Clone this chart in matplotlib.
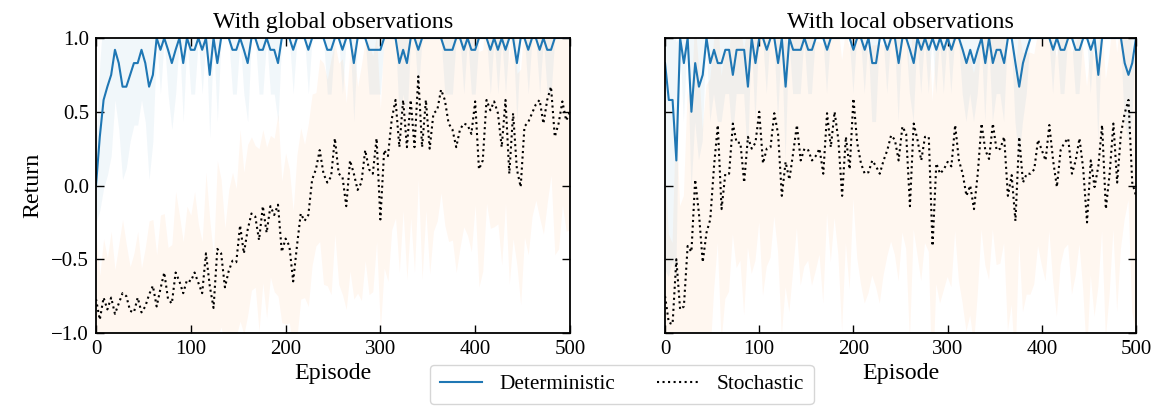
import numpy as np
import matplotlib
matplotlib.use("Agg")
import matplotlib.pyplot as plt

plt.rcParams['font.family'] = ['Liberation Serif', 'DejaVu Serif']
plt.rcParams['axes.unicode_minus'] = True

# ---------------- data (evaluated every 4 episodes) ----------------
step = 4

global_det = [
    0.00, 0.33, 0.58, 0.67, 0.75, 0.92, 0.83, 0.67, 0.67, 0.75,
    0.83, 0.83, 0.92, 0.83, 0.67, 0.75, 1.00, 0.92, 1.00, 0.92,
    0.83, 0.92, 1.00, 0.83, 1.00, 0.92, 0.92, 1.00, 0.92, 1.00,
    0.75, 1.00, 0.83, 1.00, 1.00, 1.00, 0.92, 0.92, 1.00, 0.92,
    0.83, 1.00, 1.00, 0.92, 0.92, 1.00, 0.92, 0.92, 0.83, 1.00,
    1.00, 1.00, 0.92, 1.00, 1.00, 1.00, 0.92, 1.00, 1.00, 1.00,
    1.00, 0.92, 0.92, 1.00, 1.00, 0.92, 1.00, 1.00, 0.83, 1.00,
    1.00, 1.00, 0.92, 0.92, 0.92, 0.92, 1.00, 1.00, 1.00, 1.00,
    0.83, 0.92, 0.83, 1.00, 1.00, 0.92, 1.00, 1.00, 1.00, 1.00,
    1.00, 1.00, 0.92, 0.92, 0.92, 1.00, 1.00, 0.92, 1.00, 0.92,
    0.92, 1.00, 1.00, 1.00, 0.92, 1.00, 0.92, 1.00, 0.92, 1.00,
    1.00, 0.83, 1.00, 1.00, 0.92, 1.00, 1.00, 0.92, 1.00, 0.92,
    0.92, 1.00, 1.00, 1.00, 1.00, 1.00]
global_det_std = [
    0.25, 0.50, 0.60, 0.60, 0.55, 0.34, 0.45, 0.63, 0.55, 0.45,
    0.42, 0.42, 0.34, 0.40, 0.63, 0.45, 0.00, 0.30, 0.00, 0.30,
    0.45, 0.30, 0.00, 0.40, 0.00, 0.30, 0.30, 0.00, 0.30, 0.00,
    0.43, 0.00, 0.40, 0.00, 0.00, 0.00, 0.30, 0.30, 0.00, 0.30,
    0.40, 0.00, 0.00, 0.30, 0.30, 0.00, 0.30, 0.30, 0.40, 0.00,
    0.00, 0.00, 0.30, 0.00, 0.00, 0.00, 0.30, 0.00, 0.00, 0.00,
    0.00, 0.30, 0.30, 0.00, 0.00, 0.30, 0.00, 0.00, 0.40, 0.00,
    0.00, 0.00, 0.30, 0.30, 0.30, 0.30, 0.00, 0.00, 0.00, 0.00,
    0.40, 0.30, 0.40, 0.00, 0.00, 0.30, 0.00, 0.00, 0.00, 0.00,
    0.00, 0.00, 0.30, 0.30, 0.30, 0.00, 0.00, 0.30, 0.00, 0.30,
    0.30, 0.00, 0.00, 0.00, 0.30, 0.00, 0.30, 0.00, 0.30, 0.00,
    0.00, 0.40, 0.00, 0.00, 0.30, 0.00, 0.00, 0.30, 0.00, 0.30,
    0.30, 0.00, 0.00, 0.00, 0.00, 0.00]
global_sto = [
    -0.77, -0.91, -0.76, -0.84, -0.76, -0.87, -0.80, -0.73, -0.75, -0.85,
    -0.86, -0.76, -0.86, -0.82, -0.74, -0.68, -0.82, -0.70, -0.59, -0.77,
    -0.80, -0.59, -0.65, -0.73, -0.64, -0.65, -0.59, -0.66, -0.73, -0.46,
    -0.68, -0.83, -0.43, -0.46, -0.69, -0.58, -0.51, -0.52, -0.27, -0.46,
    -0.30, -0.19, -0.21, -0.37, -0.14, -0.32, -0.14, -0.20, -0.13, -0.45,
    -0.36, -0.41, -0.65, -0.41, -0.19, -0.24, -0.20, 0.04, 0.11, 0.24,
    0.08, 0.02, 0.06, 0.32, 0.08, 0.06, -0.14, 0.17, 0.08, -0.03,
    0.02, 0.24, 0.11, 0.08, 0.32, -0.23, 0.24, 0.20, 0.45, 0.58,
    0.26, 0.58, 0.26, 0.58, 0.26, 0.74, 0.26, 0.58, 0.25, 0.49,
    0.51, 0.65, 0.58, 0.42, 0.38, 0.26, 0.38, 0.42, 0.41, 0.35,
    0.57, 0.11, 0.17, 0.58, 0.51, 0.57, 0.49, 0.26, 0.58, 0.08,
    0.49, 0.11, -0.01, 0.40, 0.43, 0.49, 0.55, 0.58, 0.42, 0.58,
    0.67, 0.33, 0.42, 0.57, 0.44, 0.50]
global_sto_std = [
    0.45, 0.30, 0.40, 0.35, 0.45, 0.30, 0.40, 0.50, 0.35, 0.30,
    0.40, 0.45, 0.30, 0.40, 0.50, 0.45, 0.35, 0.50, 0.40, 0.35,
    0.40, 0.55, 0.45, 0.35, 0.50, 0.45, 0.55, 0.40, 0.35, 0.55,
    0.45, 0.35, 0.60, 0.50, 0.40, 0.55, 0.60, 0.50, 0.65, 0.55,
    0.58, 0.52, 0.48, 0.62, 0.52, 0.58, 0.48, 0.52, 0.62, 0.48,
    0.58, 0.52, 0.48, 0.62, 0.58, 0.52, 0.62, 0.58, 0.52, 0.62,
    0.75, 0.70, 0.80, 0.65, 0.75, 0.80, 0.70, 0.75, 0.85, 0.70,
    0.80, 0.75, 0.85, 0.80, 0.70, 0.75, 0.80, 0.85, 0.75, 0.80,
    0.85, 0.75, 0.90, 0.80, 0.85, 0.70, 0.90, 0.75, 0.85, 0.80,
    0.75, 0.70, 0.85, 0.80, 0.75, 0.85, 0.80, 0.70, 0.75, 0.80,
    0.70, 0.80, 0.75, 0.70, 0.80, 0.85, 0.75, 0.80, 0.70, 0.75,
    0.85, 0.65, 0.80, 0.75, 0.90, 0.70, 0.65, 0.80, 0.75, 0.70,
    0.60, 0.80, 0.85, 0.70, 0.75, 0.80]

local_det = [
    0.83, 0.58, 0.58, 0.17, 1.00, 0.83, 1.00, 0.50, 0.83, 0.67,
    0.75, 1.00, 0.83, 0.92, 0.83, 0.83, 0.92, 0.92, 0.75, 0.92,
    0.92, 0.92, 0.67, 1.00, 0.83, 1.00, 1.00, 0.92, 1.00, 1.00,
    0.83, 1.00, 0.67, 1.00, 0.92, 0.92, 0.92, 1.00, 0.92, 0.92,
    1.00, 1.00, 1.00, 0.92, 1.00, 1.00, 1.00, 1.00, 1.00, 1.00,
    0.92, 1.00, 1.00, 0.92, 1.00, 0.83, 0.83, 1.00, 1.00, 0.92,
    1.00, 1.00, 0.83, 1.00, 1.00, 0.92, 0.83, 1.00, 0.92, 1.00,
    0.92, 1.00, 0.92, 1.00, 0.92, 1.00, 0.92, 1.00, 1.00, 0.92,
    0.83, 0.92, 0.83, 0.92, 1.00, 0.83, 1.00, 0.83, 0.92, 0.92,
    0.83, 1.00, 1.00, 0.83, 0.67, 0.83, 0.92, 1.00, 1.00, 1.00,
    1.00, 1.00, 1.00, 0.92, 1.00, 0.92, 0.92, 1.00, 1.00, 0.92,
    0.92, 1.00, 1.00, 0.92, 1.00, 0.75, 1.00, 1.00, 1.00, 1.00,
    1.00, 1.00, 0.83, 0.75, 0.83, 1.00]
local_det_std = [
    1.40, 1.20, 1.10, 0.80, 0.00, 0.40, 0.00, 0.55, 0.40, 0.50,
    0.45, 0.00, 0.40, 0.30, 0.40, 0.40, 0.30, 0.30, 0.45, 0.30,
    0.30, 0.30, 0.50, 0.00, 0.40, 0.00, 0.00, 0.30, 0.00, 0.00,
    0.40, 0.00, 0.50, 0.00, 0.30, 0.30, 0.30, 0.00, 0.30, 0.30,
    0.00, 0.00, 0.00, 0.30, 0.00, 0.00, 0.00, 0.00, 0.00, 0.00,
    0.30, 0.00, 0.00, 0.30, 0.00, 0.40, 0.40, 0.00, 0.00, 0.30,
    0.00, 0.00, 0.40, 0.00, 0.00, 0.30, 0.40, 0.00, 0.30, 0.00,
    0.30, 0.00, 0.30, 0.00, 0.30, 0.00, 0.30, 0.00, 0.00, 0.30,
    0.40, 0.30, 0.40, 0.30, 0.00, 0.40, 0.00, 0.40, 0.30, 0.30,
    0.40, 0.00, 0.00, 0.40, 0.50, 0.40, 0.30, 0.00, 0.00, 0.00,
    0.00, 0.00, 0.00, 0.30, 0.00, 0.30, 0.30, 0.00, 0.00, 0.30,
    0.30, 0.00, 0.00, 0.30, 0.00, 0.45, 0.00, 0.00, 0.00, 0.00,
    0.00, 0.00, 0.40, 0.45, 0.40, 0.00]
local_sto = [
    -0.75, -0.93, -0.94, -0.50, -0.84, -0.82, -0.41, -0.45, 0.04, -0.19,
    -0.52, -0.32, -0.23, 0.13, 0.41, -0.16, 0.08, 0.08, 0.42, 0.29,
    0.29, 0.02, 0.33, 0.25, 0.29, 0.50, 0.15, 0.25, 0.26, 0.49,
    0.35, -0.07, 0.16, 0.04, 0.22, 0.41, 0.17, 0.25, 0.24, 0.17,
    0.20, 0.25, 0.08, 0.49, 0.26, 0.50, 0.31, -0.07, 0.33, 0.11,
    0.59, 0.29, 0.15, 0.08, 0.09, 0.17, 0.13, 0.08, 0.17, 0.24,
    0.34, 0.31, 0.17, 0.40, 0.35, -0.14, 0.42, 0.31, 0.17, 0.33,
    0.33, -0.41, 0.15, 0.08, 0.11, 0.16, 0.13, 0.41, 0.17, 0.08,
    -0.07, 0.00, -0.16, 0.08, 0.42, 0.24, 0.18, 0.42, 0.24, 0.25,
    0.33, -0.07, 0.07, -0.24, 0.33, 0.02, 0.08, 0.08, 0.11, 0.31,
    0.24, 0.17, 0.41, 0.17, -0.01, 0.24, 0.29, 0.32, 0.08, 0.17,
    0.32, 0.11, -0.25, 0.17, -0.01, 0.13, 0.41, -0.16, 0.08, 0.42,
    0.02, 0.35, 0.49, 0.58, 0.02, -0.07]
local_sto_std = [
    0.90, 0.60, 0.55, 1.00, 0.70, 0.75, 1.05, 1.00, 1.10, 1.00,
    0.90, 1.00, 0.95, 0.85, 0.80, 0.90, 0.85, 0.80, 0.75, 0.85,
    0.80, 0.90, 0.75, 0.85, 0.80, 0.75, 0.90, 0.80, 0.75, 0.70,
    0.80, 0.95, 0.85, 0.90, 0.80, 0.70, 0.85, 0.80, 0.75, 0.85,
    0.78, 0.72, 0.88, 0.68, 0.78, 0.72, 0.78, 0.92, 0.72, 0.82,
    0.68, 0.78, 0.82, 0.88, 0.82, 0.78, 0.82, 0.88, 0.78, 0.72,
    0.72, 0.78, 0.82, 0.72, 0.78, 0.92, 0.72, 0.78, 0.82, 0.72,
    0.78, 0.98, 0.82, 0.88, 0.82, 0.78, 0.82, 0.72, 0.82, 0.88,
    0.92, 0.88, 0.92, 0.82, 0.72, 0.78, 0.82, 0.72, 0.78, 0.78,
    0.72, 0.92, 0.88, 0.98, 0.72, 0.88, 0.82, 0.82, 0.78, 0.72,
    0.78, 0.82, 0.72, 0.82, 0.88, 0.78, 0.72, 0.72, 0.82, 0.78,
    0.72, 0.82, 0.92, 0.78, 0.88, 0.82, 0.72, 0.88, 0.82, 0.72,
    0.88, 0.78, 0.72, 0.68, 0.88, 0.92]

titles = ["With global observations", "With local observations"]
xticks = [0, 100, 200, 300, 400, 500]
yticks = [-1.0, -0.5, 0.0, 0.5, 1.0]

panels = [
    (global_det, global_det_std, global_sto, global_sto_std),
    (local_det, local_det_std, local_sto, local_sto_std),
]

# ---------------- figure ----------------
fig = plt.figure(figsize=(11.58, 4.07), dpi=100)
axes = [fig.add_axes([0.0829, 0.1818, 0.4093, 0.7248]),
        fig.add_axes([0.5743, 0.1818, 0.4067, 0.7248])]

c_det = '#1f77b4'
c_sto = '#ff7f0e'

for i, (ax, (d, ds, s, ss)) in enumerate(zip(axes, panels)):
    d = np.asarray(d); ds = np.asarray(ds)
    s = np.asarray(s); ss = np.asarray(ss)
    xd = np.arange(len(d)) * step
    xs = np.arange(len(s)) * step
    ax.fill_between(xd, d - ds, d + ds, color=c_det, alpha=0.06, lw=0)
    ax.fill_between(xs, s - ss, s + ss, color=c_sto, alpha=0.06, lw=0)
    ld, = ax.plot(xd, d, color=c_det, lw=1.5, label='Deterministic')
    ls, = ax.plot(xs, s, color='black', lw=1.5, ls=':', label='Stochastic')
    ax.set_xlim(0, 500)
    ax.set_ylim(-1.0, 1.0)
    ax.set_xticks(xticks)
    ax.set_yticks(yticks)
    ax.tick_params(direction='in', top=True, right=True, length=6, width=1.0,
                   labelsize=15, pad=5)
    for sp in ax.spines.values():
        sp.set_linewidth(1.3)
    ax.set_title(titles[i], fontsize=17.3, pad=7)
    ax.set_xlabel('Episode', fontsize=17.3, labelpad=3)
    if i == 0:
        ax.set_ylabel('Return', fontsize=17.3, labelpad=6)
    else:
        ax.tick_params(labelleft=False)

fig.legend(handles=[ld, ls], labels=['Deterministic', 'Stochastic'],
           loc='lower center', bbox_to_anchor=(0.537, 0.0), ncol=2,
           fontsize=15.3, frameon=True, fancybox=True, edgecolor='0.8',
           handlelength=2.0, columnspacing=2.0, borderpad=0.45,
           borderaxespad=0.15)

fig.savefig('out.png', dpi=100)
